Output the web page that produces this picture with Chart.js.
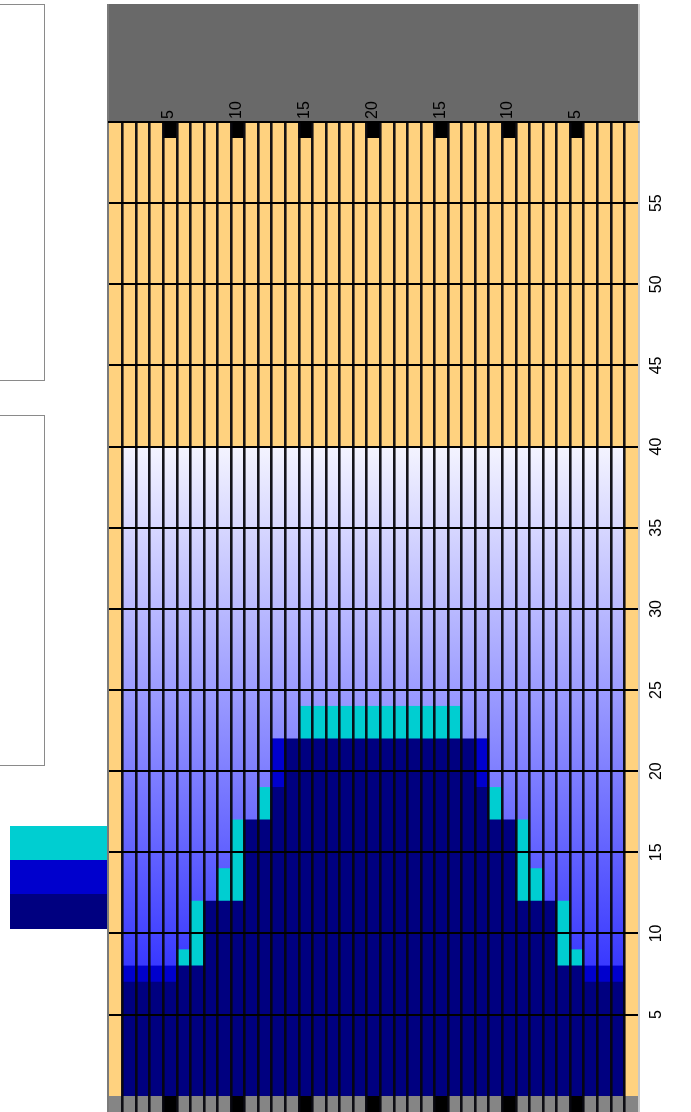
<!DOCTYPE html>
<html><head><meta charset="utf-8">
<script src="https://cdn.jsdelivr.net/npm/chart.js@4.4.1/dist/chart.umd.min.js"></script>
<style>
html,body{margin:0;padding:0;background:#fff;}
#wrap{position:relative;width:691px;height:1112px;overflow:hidden;background:#fff;}
#c{position:absolute;left:0;top:0;}
.panel{position:absolute;left:-1px;width:46px;border:1px solid #8a8a8a;background:#fff;box-sizing:border-box;}
.sw{position:absolute;left:10px;width:98px;}
.vline{position:absolute;top:4px;width:2px;height:1108px;}
</style></head>
<body><div id="wrap">
<div class="panel" style="top:4px;height:377px"></div>
<div class="panel" style="top:415px;height:351px"></div>
<div id="legend"></div>
<div class="vline" style="left:107px;background:#7a7a7a"></div>
<div class="vline" style="left:638px;background:#c8c8c8"></div>
<canvas id="c" width="691" height="1112"></canvas>
</div>
<script>
// ---- data ----
// 39 chart columns: border column, 37 stitch columns, border column
const columnLabels = ['', '', '', '', '5', '', '', '', '', '10', '', '', '', '', '15', '', '', '', '', '20',
                      '', '', '', '', '15', '', '', '', '', '10', '', '', '', '', '5', '', '', '', ''];
// row lines / labels on the right
const rowTicks = [5, 10, 15, 20, 25, 30, 35, 40, 45, 50, 55];
const totalRows = 60;
const blueZoneTop = 40;          // rows 1..40 shaded blue->white, rows 41..60 plain
// per stitch column (37): top row reached by each colour, counted from row 1
const navyTop = [7, 7, 7, 7, 8, 8, 12, 12, 12, 17, 17, 19, 22,
                 22, 22, 22, 22, 22, 22, 22, 22, 22, 22, 22, 22,
                 22, 19, 17, 17, 12, 12, 12, 8, 8, 7, 7, 7];
const blueTop = [8, 8, 8, 8, 8, 8, 12, 12, 12, 17, 17, 22, 22,
                 22, 22, 22, 22, 22, 22, 22, 22, 22, 22, 22, 22,
                 22, 22, 17, 17, 12, 12, 12, 8, 8, 8, 8, 8];
const cyanTop = [8, 8, 8, 8, 9, 12, 12, 14, 17, 17, 19, 22, 22,
                 24, 24, 24, 24, 24, 24, 24, 24, 24, 24, 24, 24,
                 22, 22, 19, 17, 17, 14, 12, 12, 9, 8, 8, 8];
const seriesNames = ['turquoise', 'blue', 'navy'];
const seriesColors = ['#00CED1', '#0000CD', '#000080'];

// ---- styles ----
const ORANGE = '#FFD27F', GREY = '#858585', BLACK = '#000000', TOPGREY = '#696969';
const FONT = {family: "'Liberation Sans Narrow','Liberation Sans',Arial,sans-serif", size: 16};

// legend swatches
const leg = document.getElementById('legend');
[34, 34, 35].forEach((h, i) => {
  const d = document.createElement('div');
  d.className = 'sw';
  d.style.top = (826 + [0, 34, 68][i]) + 'px';
  d.style.height = h + 'px';
  d.style.background = seriesColors[i];
  d.title = seriesNames[i];
  leg.appendChild(d);
});

// ---- build floating bar data ----
const n = columnLabels.length;
const isBorder = i => i === 0 || i === n - 1;
const isMarker = i => columnLabels[i] !== '';
const navyData = [], blueData = [], cyanData = [], shadeData = [], orangeData = [], topData = [], baseData = [];
const topColors = [], baseColors = [];
for (let i = 0; i < n; i++) {
  if (isBorder(i)) {
    navyData.push(null); blueData.push(null); cyanData.push(null); shadeData.push(null);
    orangeData.push([0, totalRows - 1]);
  } else {
    const k = i - 1;
    navyData.push([0, navyTop[k]]);
    blueData.push(blueTop[k] > navyTop[k] ? [navyTop[k], blueTop[k]] : null);
    cyanData.push(cyanTop[k] > blueTop[k] ? [blueTop[k], cyanTop[k]] : null);
    shadeData.push([cyanTop[k], blueZoneTop]);
    orangeData.push([blueZoneTop, totalRows - 1]);
  }
  topData.push([totalRows - 1, totalRows]);
  baseData.push([-1, 0]);
  topColors.push(isMarker(i) ? BLACK : ORANGE);
  baseColors.push(isMarker(i) ? BLACK : GREY);
}

function shade(ctx) {
  const chart = ctx.chart;
  if (!chart.chartArea) return '#8080ff';
  const y = chart.scales.y;
  const g = chart.ctx.createLinearGradient(0, y.getPixelForValue(0), 0, y.getPixelForValue(blueZoneTop));
  g.addColorStop(0, 'rgb(10,10,255)');
  g.addColorStop(1, 'rgb(244,244,255)');
  return g;
}

const common = {barPercentage: 1, categoryPercentage: 1, grouped: false, borderWidth: 0};
const topBg = {
  id: 'topBg',
  beforeDraw(chart) {
    const s = chart.scales.x, c = chart.ctx;
    c.save(); c.fillStyle = TOPGREY;
    c.fillRect(s.left, s.top, s.right - s.left, s.bottom - s.top);
    c.restore();
  }
};
const noPad = s => { s.paddingTop = 0; s.paddingBottom = 0; s.paddingLeft = 0; s.paddingRight = 0; };

new Chart(document.getElementById('c'), {
  type: 'bar',
  data: {
    labels: columnLabels,
    datasets: [
      Object.assign({label: 'navy', data: navyData, backgroundColor: seriesColors[2]}, common),
      Object.assign({label: 'blue', data: blueData, backgroundColor: seriesColors[1]}, common),
      Object.assign({label: 'turquoise', data: cyanData, backgroundColor: seriesColors[0]}, common),
      Object.assign({label: 'shade', data: shadeData, backgroundColor: shade}, common),
      Object.assign({label: 'plain', data: orangeData, backgroundColor: ORANGE}, common),
      Object.assign({label: 'top', data: topData, backgroundColor: topColors}, common),
      Object.assign({label: 'base', data: baseData, backgroundColor: baseColors}, common)
    ]
  },
  options: {
    responsive: false,
    animation: false,
    devicePixelRatio: 1,
    layout: {padding: {left: 109, top: 4, right: 0, bottom: 0}},
    plugins: {legend: {display: false}, tooltip: {enabled: false}},
    scales: {
      x: {
        type: 'category', position: 'top', offset: true, z: 2,
        grid: {offset: true, drawTicks: false, lineWidth: 2.6, z: 2,
               color: c => (c.type === 'tick' && c.index > 0) ? 'rgba(6,6,14,0.94)' : 'rgba(0,0,0,0)'},
        border: {display: true, color: BLACK, width: 2, z: 3},
        ticks: {autoSkip: false, minRotation: 90, maxRotation: 90, padding: 3, labelOffset: 18,
                color: BLACK, font: FONT},
        afterFit: s => { s.height = 118; noPad(s); }
      },
      y: {
        type: 'linear', position: 'right', min: -1, max: totalRows, z: 2,
        afterBuildTicks: s => { s.ticks = rowTicks.map(v => ({value: v})); },
        grid: {drawTicks: false, color: BLACK, lineWidth: 2, z: 3},
        border: {display: false},
        ticks: {minRotation: 90, crossAlign: 'center', padding: 10, color: BLACK, font: FONT},
        afterFit: s => { s.width = 53; noPad(s); }
      }
    }
  },
  plugins: [topBg]
});
</script>
</body></html>
